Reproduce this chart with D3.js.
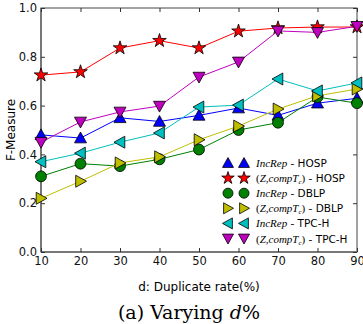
<!DOCTYPE html>
<html>
<head>
<meta charset="utf-8">
<script src="https://cdn.jsdelivr.net/npm/d3@7"></script>
<style>
body { margin: 0; background: #fff; }
text { font-family: "DejaVu Sans", sans-serif; }
</style>
</head>
<body>
<svg width="363" height="324"></svg>
<script>
var xValues = [10, 20, 30, 40, 50, 60, 70, 80, 90];
var xTicks = [10, 20, 30, 40, 50, 60, 70, 80, 90];
var yTicks = [0.0, 0.2, 0.4, 0.6, 0.8, 1.0];

var incRepHOSP = [0.48, 0.467, 0.55, 0.535, 0.56, 0.59, 0.56, 0.61, 0.63];
var zHOSP = [0.725, 0.738, 0.836, 0.866, 0.836, 0.905, 0.918, 0.922, 0.922];
var incRepDBLP = [0.31, 0.362, 0.352, 0.38, 0.42, 0.50, 0.53, 0.635, 0.61];
var zDBLP = [0.22, 0.29, 0.365, 0.39, 0.46, 0.516, 0.586, 0.64, 0.668];
var incRepTPCH = [0.37, 0.405, 0.45, 0.488, 0.594, 0.602, 0.709, 0.66, 0.693];
var zTPCH = [0.45, 0.533, 0.574, 0.598, 0.717, 0.779, 0.906, 0.90, 0.925];

var seriesNames = ["IncRep", "Z", "IncRep", "Z", "IncRep", "Z"];
var datasets = ["HOSP", "HOSP", "DBLP", "DBLP", "TPC-H", "TPC-H"];
var seriesColors = ["#0000ff", "#ff0000", "#008000", "#bfbf00", "#00bfbf", "#bf00bf"];
var seriesMarkers = ["triUp", "star", "circle", "triRight", "triLeft", "triDown"];
var seriesValues = [incRepHOSP, zHOSP, incRepDBLP, zDBLP, incRepTPCH, zTPCH];

var svg = d3.select("svg");
var x = d3.scaleLinear().domain([10, 90]).range([41, 357]);
var y = d3.scaleLinear().domain([0, 1]).range([252, 8]);

function markerPath(type, s) {
    if (type == "triUp") return "M0," + (-s) + "L" + s + "," + (s * 0.8) + "L" + (-s) + "," + (s * 0.8) + "Z";
    if (type == "triDown") return "M0," + s + "L" + s + "," + (-s * 0.8) + "L" + (-s) + "," + (-s * 0.8) + "Z";
    if (type == "triRight") return "M" + s + ",0L" + (-s * 0.8) + "," + s + "L" + (-s * 0.8) + "," + (-s) + "Z";
    if (type == "triLeft") return "M" + (-s) + ",0L" + (s * 0.8) + "," + s + "L" + (s * 0.8) + "," + (-s) + "Z";
    if (type == "star") return d3.symbol().type(d3.symbolStar).size(s * s * 1.6)();
    return d3.symbol().type(d3.symbolCircle).size(s * s * 2.6)();
}

// axes
var frame = svg.append("g");
frame.append("rect")
    .attr("x", 41).attr("y", 8)
    .attr("width", 316).attr("height", 244)
    .attr("fill", "none")
    .attr("stroke", "#444")
    .attr("stroke-width", 1);
frame.append("line").attr("x1", 41).attr("x2", 41).attr("y1", 8).attr("y2", 252)
    .attr("stroke", "#777").attr("stroke-width", 2);
frame.append("line").attr("x1", 41).attr("x2", 357).attr("y1", 252).attr("y2", 252)
    .attr("stroke", "#777").attr("stroke-width", 2);

svg.append("g")
    .attr("transform", "translate(0,252)")
    .call(d3.axisBottom(x).tickValues(xTicks).tickSize(-4).tickPadding(5).tickFormat(d3.format("d")));
svg.append("g")
    .attr("transform", "translate(41,0)")
    .call(d3.axisLeft(y).tickValues(yTicks).tickSize(-4).tickPadding(4).tickFormat(d3.format(".1f")));
svg.append("g")
    .attr("transform", "translate(357,0)")
    .call(d3.axisRight(y).tickValues(yTicks).tickSize(-4).tickFormat(""));
svg.append("g")
    .attr("transform", "translate(0,8)")
    .call(d3.axisTop(x).tickValues(xTicks).tickSize(-4).tickFormat(""));

svg.selectAll(".domain").remove();
svg.selectAll(".tick line").attr("stroke", "#333");
svg.selectAll(".tick text").style("font-size", "11.5px").attr("fill", "#111");

svg.append("text")
    .attr("x", 199).attr("y", 291)
    .attr("text-anchor", "middle")
    .style("font-size", "12px")
    .text("d: Duplicate rate(%)");

svg.append("text")
    .attr("transform", "translate(15,130) rotate(-90)")
    .attr("text-anchor", "middle")
    .style("font-size", "12px")
    .text("F-Measure");

var title = svg.append("text")
    .attr("x", 189).attr("y", 319)
    .attr("text-anchor", "middle")
    .style("font-family", "'DejaVu Serif', serif")
    .style("font-size", "19px");
title.append("tspan").text("(a) Varying ");
title.append("tspan").style("font-style", "italic").text("d");
title.append("tspan").text("%");

// series
var line = d3.line()
    .x(function (d, i) { return x(xValues[i]); })
    .y(function (d) { return y(d); });

seriesValues.forEach(function (vals, k) {
    var g = svg.append("g");
    g.append("path")
        .attr("d", line(vals))
        .attr("fill", "none")
        .attr("stroke", seriesColors[k])
        .attr("stroke-width", 1);
    g.selectAll("path.mark")
        .data(vals)
        .enter().append("path")
        .attr("class", "mark")
        .attr("d", markerPath(seriesMarkers[k], 6))
        .attr("transform", function (d, i) {
            return "translate(" + x(xValues[i]) + "," + y(d) + ")";
        })
        .attr("fill", seriesColors[k])
        .attr("stroke", "#000")
        .attr("stroke-width", 0.8);
});

// legend
var legend = svg.append("g");
var serif = "'Liberation Serif', serif";
seriesValues.forEach(function (vals, k) {
    var ly = 163 + k * 15.1;
    [228, 244].forEach(function (lx) {
        legend.append("path")
            .attr("d", markerPath(seriesMarkers[k], 5.5))
            .attr("transform", "translate(" + lx + "," + ly + ")")
            .attr("fill", seriesColors[k])
            .attr("stroke", "#000")
            .attr("stroke-width", 0.8);
    });
    var t = legend.append("text")
        .attr("x", 256).attr("y", ly + 4)
        .style("font-size", "10.5px");
    if (seriesNames[k] == "IncRep") {
        t.append("tspan").style("font-family", serif).style("font-style", "italic").style("font-size", "11px").text("IncRep");
    } else {
        t.append("tspan").style("font-family", serif).style("font-size", "11px").text("(");
        t.append("tspan").style("font-family", serif).style("font-style", "italic").style("font-size", "11px").text("Z,compT");
        t.append("tspan").style("font-family", serif).style("font-style", "italic").style("font-size", "7px").attr("dy", 2).text("c");
        t.append("tspan").style("font-family", serif).style("font-size", "11px").attr("dy", -2).text(")");
    }
    t.append("tspan").text(" - " + datasets[k]);
});
</script>
</body>
</html>
